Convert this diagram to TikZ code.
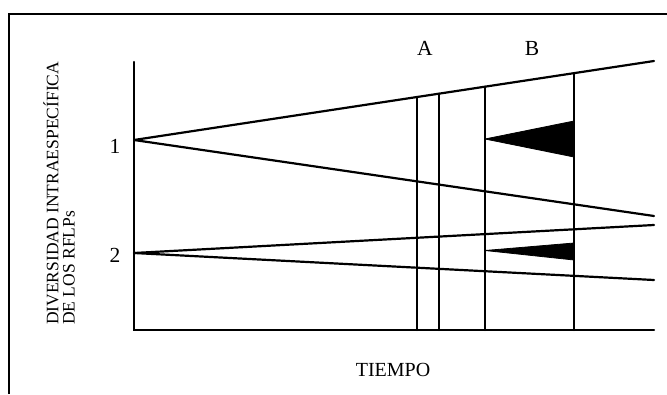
\documentclass[tikz,border=0pt]{standalone}
\usepackage{fontspec}
\setmainfont{Liberation Serif}
\begin{document}
\begin{tikzpicture}[x=1pt,y=-1pt,
  ln/.style={line width=2.2pt,line cap=round},
  frm/.style={line width=1.6pt},
  lbl/.style={inner sep=0pt,font=\fontsize{20}{24}\selectfont},
  biglbl/.style={inner sep=0pt,font=\fontsize{21.5}{24}\selectfont},
  ylbl/.style={inner sep=0pt,rotate=90,anchor=west,font=\fontsize{17.5}{20}\selectfont},
  tri/.style={fill=black,draw=black,line width=0.8pt,line join=round}]
\useasboundingbox (0,0) rectangle (667,394);
% frame
\coordinate (fb) at (9,394);
\coordinate (fc) at (9,14);
\coordinate (fr) at (667,14);
\draw[frm] (fb) -- (fc) -- (fr);
% axes
\coordinate (yt) at (134,62);
\coordinate (o) at (134,330);
\coordinate (xe) at (654,330);
\draw[ln] (yt) -- (o) -- (xe);
% population 1
\coordinate (p1) at (134,140);
\coordinate (e1a) at (654,61);
\coordinate (e1b) at (654,216);
\draw[ln] (p1) -- (e1a);
\draw[ln] (p1) -- (e1b);
% population 2
\coordinate (p2) at (134,253);
\coordinate (e2a) at (654,225);
\coordinate (e2b) at (654,280);
\draw[ln] (p2) -- (e2a);
\draw[ln] (p2) -- (e2b);
% vertical lines
\coordinate (v1t) at (417,97.0);  \coordinate (v1b) at (417,330);
\coordinate (v2t) at (439,93.7);  \coordinate (v2b) at (439,330);
\coordinate (v3t) at (485,86.7);  \coordinate (v3b) at (485,330);
\coordinate (v4t) at (574,73.2);  \coordinate (v4b) at (574,330);
\draw[ln] (v1t) -- (v1b);
\draw[ln] (v2t) -- (v2b);
\draw[ln] (v3t) -- (v3b);
\draw[ln] (v4t) -- (v4b);
% wedges
\coordinate (t1a) at (485,139);
\coordinate (t1b) at (574,121);
\coordinate (t1c) at (574,157);
\fill[tri] (t1a) -- (t1b) -- (t1c) -- cycle;
\coordinate (t2a) at (485,250.5);
\coordinate (t2b) at (574,243);
\coordinate (t2c) at (574,260);
\fill[tri] (t2a) -- (t2b) -- (t2c) -- cycle;
% labels
\node[biglbl] (la) at (425,48) {A};
\node[biglbl] (lb) at (532,48) {B};
\node[biglbl] (l1) at (115,146) {1};
\node[biglbl] (l2) at (115,255) {2};
\node[lbl] (lt) at (393,370) {TIEMPO};
\node[ylbl] (ly1) at (51,325) {DIVERSIDAD INTRAESPECÍFICA};
\node[ylbl] (ly2) at (69,325) {DE LOS RFLPs};
\end{tikzpicture}
\end{document}
